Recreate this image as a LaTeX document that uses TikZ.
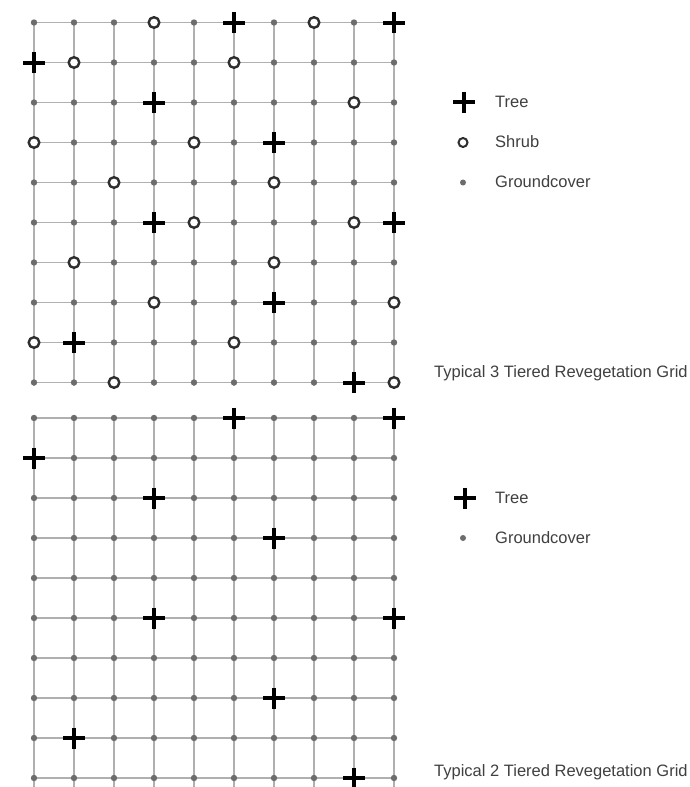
\documentclass[tikz,border=0pt]{standalone}
\usepackage{fontspec}
\setmainfont{Liberation Sans}
\definecolor{gridgray}{HTML}{B0B0B0}
\definecolor{dotgray}{HTML}{6C6C6C}
\definecolor{txtgray}{HTML}{404040}
\definecolor{shrubgray}{HTML}{2E2E2E}
\makeatletter
\newcommand\unlessinlist[3]{%
  \edef\my@tmp{\noexpand\in@{,#1,}{,#2,}}\my@tmp
  \ifin@\else #3\fi}
\makeatother
\begin{document}
\begin{tikzpicture}[x=1pt,y=-1pt,
  gridline/.style={line width=1.5pt,draw=gridgray},
  dotmark/.style={fill=dotgray},
  shrubmark/.style={draw=shrubgray,line width=2.4pt,fill=white},
  treepic/.pic={\draw[line width=4pt,black] (-11,0) -- (11,0) (0,-10.5) -- (0,10.5);},
  legtext/.style={anchor=base west,inner sep=0pt,text=txtgray,font=\fontsize{16.5}{19}\selectfont}]
\useasboundingbox (0,0) rectangle (690,787);
\fill[white] (0,0) rectangle (690,787);
% ---------------- top grid (3 tiers) ----------------
\def\topskip{50,90,01,32,63,35,95,67,18,89,30,70,11,51,82,03,43,24,64,45,85,16,66,37,97,08,58,29,99}
\foreach \j in {0,...,9} \draw[gridline] (34,22.5+40*\j) -- (394,22.5+40*\j);
\foreach \i in {0,...,9} \draw[gridline] (34+40*\i,22.5) -- (34+40*\i,386);
\foreach \i in {0,...,9}{\foreach \j in {0,...,9}{%
  \unlessinlist{\i\j}{\topskip}{\fill[dotmark] (34+40*\i,22.5+40*\j) circle (3.2);}}}
\foreach \i/\j in {3/0,7/0,1/1,5/1,8/2,0/3,4/3,2/4,6/4,4/5,8/5,1/6,6/6,3/7,9/7,0/8,5/8,2/9,9/9}
  \draw[shrubmark] (34+40*\i,22.5+40*\j) circle (5.3);
\foreach \i/\j in {5/0,9/0,0/1,3/2,6/3,3/5,9/5,6/7,1/8,8/9}
  \pic at (34+40*\i,22.5+40*\j) {treepic};
% legend top
\pic at (464,102) {treepic};
\node[legtext] (l1tree) at (495,107) {Tree};
\draw[shrubmark,line width=2pt] (463,142.5) circle (4.5);
\node[legtext] (l1shrub) at (495,147) {Shrub};
\fill[dotmark] (463,182.5) circle (3);
\node[legtext] (l1ground) at (495,187) {Groundcover};
\node[legtext] (title1) at (434,377) {Typical 3 Tiered Revegetation Grid};
% ---------------- bottom grid (2 tiers) ----------------
\def\botskip{50,90,01,32,63,35,95,67,18,89}
\foreach \j in {0,...,9} \draw[gridline] (34,418+40*\j) -- (394,418+40*\j);
\foreach \i in {0,...,9} \draw[gridline] (34+40*\i,418) -- (34+40*\i,787);
\foreach \i in {0,...,9}{\foreach \j in {0,...,9}{%
  \unlessinlist{\i\j}{\botskip}{\fill[dotmark] (34+40*\i,418+40*\j) circle (3.2);}}}
\foreach \i/\j in {5/0,9/0,0/1,3/2,6/3,3/5,9/5,6/7,1/8,8/9}
  \pic at (34+40*\i,418+40*\j) {treepic};
% legend bottom
\pic at (465,498) {treepic};
\node[legtext] (l2tree) at (495,503) {Tree};
\fill[dotmark] (463,538) circle (3);
\node[legtext] (l2ground) at (495,543.5) {Groundcover};
\node[legtext] (title2) at (434,776) {Typical 2 Tiered Revegetation Grid};
\end{tikzpicture}
\end{document}
